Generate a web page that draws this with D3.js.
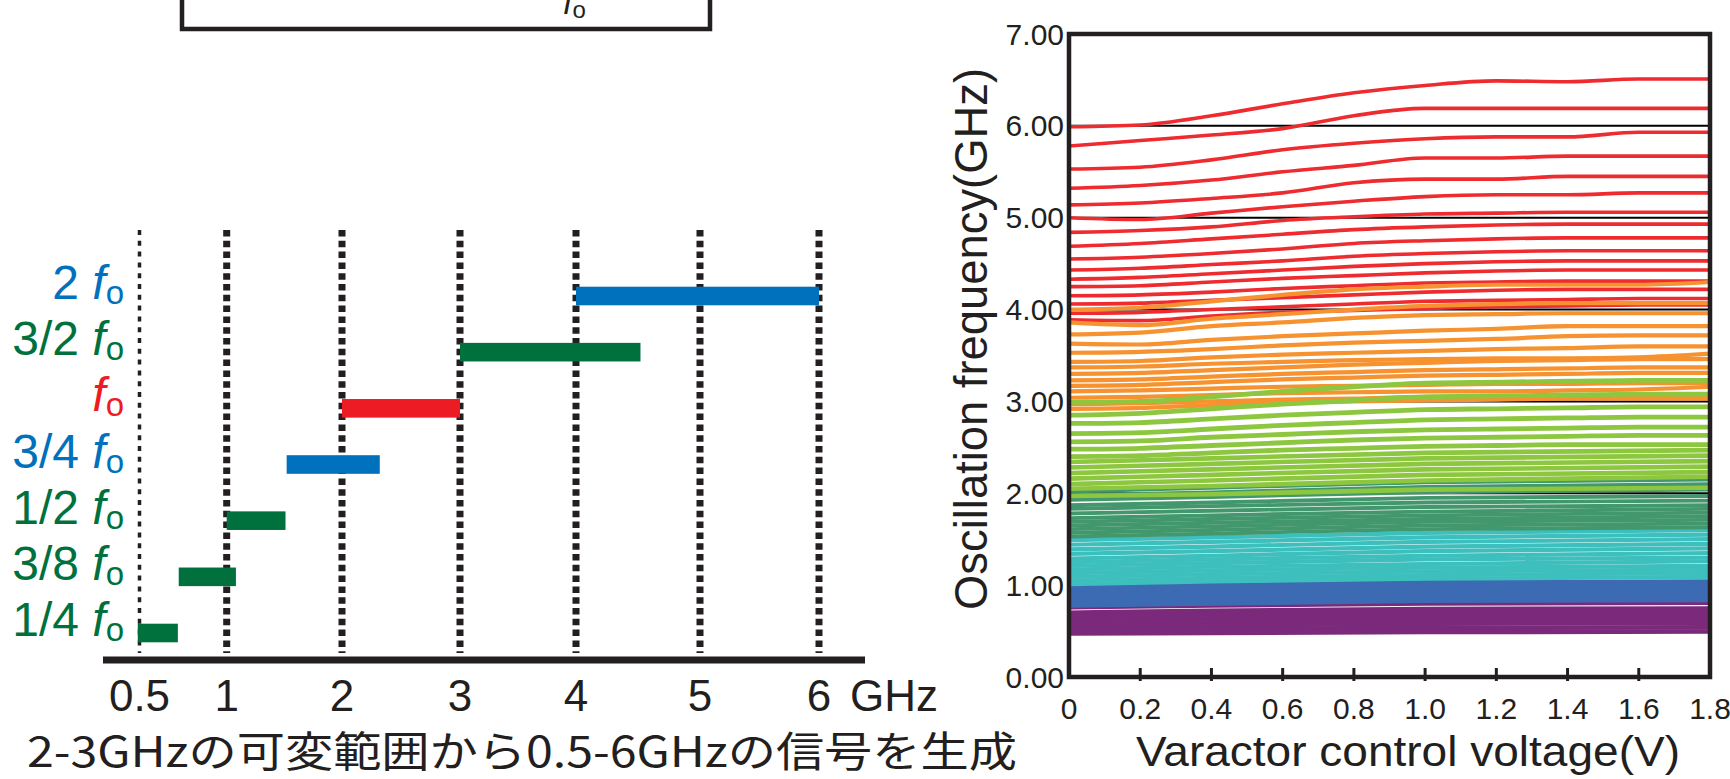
<!DOCTYPE html>
<html>
<head>
<meta charset="utf-8">
<script src="https://d3js.org/d3.v7.min.js"></script>
<style>
body { margin: 0; background: #fff; }
svg { display: block; }
text { font-family: "Liberation Sans", Arial, sans-serif; fill: #231f20; }
</style>
</head>
<body>
<div id="chart"></div>
<script>
var width = 1730;
var height = 779;

// left panel: ranges generated from the 2-3GHz oscillator
var rowNames = ["2", "3/2", "", "3/4", "1/2", "3/8", "1/4"];
var bandLow = [4.0, 3.0, 2.0, 1.52, 1.0, 0.725, 0.49];
var bandHigh = [6.0, 4.52, 3.0, 2.32, 1.51, 1.08, 0.72];
var freqTicks = [0.5, 1, 2, 3, 4, 5, 6];
var caption = "2-3GHzの可変範囲から0.5-6GHzの信号を生成";

// right panel: oscillation frequency (GHz) vs varactor voltage (V)
var volts = [0, 0.2, 0.4, 0.6, 0.8, 1.0, 1.2, 1.4, 1.6, 1.8];
var voltsCoarse = [0, 0.4, 1.0, 1.8];
var voltTicks = [0, 0.2, 0.4, 0.6, 0.8, 1.0, 1.2, 1.4, 1.6, 1.8];
var freqAxisTicks = [0, 1, 2, 3, 4, 5, 6, 7];
var gridFreqs = [1, 2, 3, 4, 5, 6];

var redCurves = [
	[5.99, 6.01, 6.11, 6.24, 6.36, 6.44, 6.49, 6.48, 6.51, 6.51],
	[5.78, 5.84, 5.90, 5.97, 6.11, 6.19, 6.19, 6.19, 6.19, 6.19],
	[5.53, 5.55, 5.63, 5.74, 5.81, 5.86, 5.88, 5.88, 5.93, 5.93],
	[5.32, 5.35, 5.41, 5.50, 5.57, 5.65, 5.65, 5.67, 5.67, 5.67],
	[5.14, 5.16, 5.21, 5.27, 5.38, 5.42, 5.42, 5.45, 5.45, 5.45],
	[5.00, 4.98, 5.05, 5.12, 5.18, 5.23, 5.25, 5.25, 5.27, 5.27],
	[4.84, 4.86, 4.90, 4.97, 5.01, 5.04, 5.05, 5.06, 5.06, 5.06],
	[4.69, 4.72, 4.77, 4.82, 4.87, 4.90, 4.92, 4.93, 4.93, 4.93],
	[4.55, 4.57, 4.61, 4.66, 4.72, 4.75, 4.77, 4.78, 4.78, 4.78],
	[4.43, 4.45, 4.49, 4.53, 4.58, 4.61, 4.63, 4.64, 4.64, 4.64],
	[4.33, 4.35, 4.39, 4.43, 4.47, 4.50, 4.52, 4.53, 4.53, 4.53],
	[4.25, 4.26, 4.30, 4.34, 4.37, 4.40, 4.42, 4.43, 4.43, 4.43],
	[4.15, 4.16, 4.19, 4.23, 4.26, 4.29, 4.30, 4.31, 4.31, 4.31],
	[4.06, 4.07, 4.10, 4.13, 4.16, 4.19, 4.21, 4.22, 4.22, 4.22],
	[3.96, 3.97, 4.00, 4.03, 4.06, 4.09, 4.10, 4.11, 4.12, 4.12],
	[3.89, 3.88, 3.93, 3.97, 3.99, 4.01, 4.03, 4.04, 4.05, 4.05]
];

var orangeCurves = [
	[4.00, 4.02, 4.09, 4.16, 4.22, 4.25, 4.27, 4.27, 4.27, 4.30],
	[3.86, 3.83, 3.90, 3.95, 4.00, 4.04, 4.06, 4.07, 4.07, 4.07],
	[3.73, 3.75, 3.82, 3.86, 3.91, 3.94, 3.95, 3.96, 3.96, 3.96],
	[3.63, 3.62, 3.67, 3.71, 3.74, 3.77, 3.79, 3.82, 3.82, 3.82],
	[3.53, 3.54, 3.57, 3.61, 3.64, 3.66, 3.68, 3.71, 3.72, 3.72],
	[3.43, 3.44, 3.48, 3.51, 3.53, 3.55, 3.57, 3.58, 3.60, 3.60],
	[3.37, 3.38, 3.41, 3.43, 3.45, 3.46, 3.47, 3.47, 3.48, 3.52],
	[3.30, 3.31, 3.34, 3.37, 3.40, 3.42, 3.44, 3.45, 3.46, 3.46],
	[3.23, 3.24, 3.27, 3.30, 3.32, 3.34, 3.35, 3.36, 3.37, 3.37],
	[3.17, 3.18, 3.21, 3.24, 3.26, 3.28, 3.29, 3.30, 3.31, 3.31],
	[3.11, 3.12, 3.14, 3.16, 3.17, 3.18, 3.19, 3.19, 3.20, 3.20],
	[3.04, 3.05, 3.07, 3.09, 3.10, 3.11, 3.11, 3.12, 3.13, 3.16],
	[2.97, 2.98, 3.00, 3.02, 3.03, 3.05, 3.05, 3.06, 3.07, 3.07],
	[2.92, 2.93, 2.96, 2.99, 3.00, 3.01, 3.02, 3.03, 3.03, 3.03]
];

var greenCurves = [
	[2.99, 3.00, 3.05, 3.11, 3.16, 3.20, 3.21, 3.22, 3.23, 3.23],
	[2.85, 2.87, 2.92, 2.97, 3.01, 3.05, 3.06, 3.07, 3.08, 3.08],
	[2.76, 2.77, 2.81, 2.85, 2.88, 2.91, 2.92, 2.93, 2.94, 2.94],
	[2.65, 2.66, 2.70, 2.74, 2.77, 2.80, 2.81, 2.82, 2.83, 2.83],
	[2.56, 2.57, 2.61, 2.64, 2.67, 2.69, 2.70, 2.71, 2.72, 2.72],
	[2.48, 2.49, 2.52, 2.55, 2.58, 2.60, 2.61, 2.62, 2.63, 2.63],
	[2.40, 2.41, 2.44, 2.47, 2.49, 2.51, 2.52, 2.53, 2.53, 2.53]
];

// dense bands, read at 0, 0.4, 1.0 and 1.8 V
var greenDense = [
	[2.34, 2.38, 2.44, 2.47],
	[2.28, 2.32, 2.38, 2.41],
	[2.22, 2.26, 2.32, 2.35],
	[2.16, 2.20, 2.26, 2.29],
	[2.10, 2.14, 2.20, 2.23],
	[2.05, 2.08, 2.14, 2.18],
	[1.97, 1.99, 2.04, 2.06]
];

var tealCurves = [
	[2.02, 2.06, 2.12, 2.15],
	[1.98, 2.01, 2.07, 2.10],
	[1.93, 1.96, 2.01, 2.04],
	[1.87, 1.90, 1.95, 1.97],
	[1.83, 1.86, 1.90, 1.92],
	[1.78, 1.81, 1.85, 1.87],
	[1.73, 1.76, 1.80, 1.83],
	[1.69, 1.72, 1.76, 1.79],
	[1.65, 1.68, 1.72, 1.75],
	[1.61, 1.64, 1.69, 1.71],
	[1.57, 1.60, 1.65, 1.67],
	[1.53, 1.56, 1.61, 1.63]
];

var cyanCurves = [
	[1.49, 1.52, 1.57, 1.60],
	[1.44, 1.47, 1.52, 1.55],
	[1.39, 1.42, 1.47, 1.50],
	[1.34, 1.37, 1.42, 1.45],
	[1.29, 1.32, 1.37, 1.40],
	[1.25, 1.28, 1.32, 1.35],
	[1.21, 1.24, 1.28, 1.30],
	[1.17, 1.20, 1.23, 1.26],
	[1.13, 1.16, 1.19, 1.21],
	[1.09, 1.12, 1.15, 1.17],
	[1.05, 1.08, 1.11, 1.13],
	[1.01, 1.04, 1.07, 1.09]
];

var blueCurves = [
	[0.97, 1.00, 1.03, 1.04],
	[0.93, 0.96, 0.99, 1.00],
	[0.89, 0.92, 0.95, 0.96],
	[0.85, 0.88, 0.91, 0.92],
	[0.81, 0.84, 0.87, 0.88],
	[0.78, 0.80, 0.83, 0.84]
];

var purpleCurves = [
	[0.76, 0.78, 0.80, 0.81],
	[0.70, 0.72, 0.74, 0.745],
	[0.66, 0.68, 0.70, 0.705],
	[0.62, 0.64, 0.66, 0.665],
	[0.58, 0.60, 0.62, 0.625],
	[0.54, 0.56, 0.58, 0.585],
	[0.50, 0.52, 0.535, 0.54],
	[0.475, 0.48, 0.49, 0.495]
];

var svg = d3.select("#chart")
	.append("svg")
	.attr("width", width)
	.attr("height", height);

var ink = "#231f20";
var rowColors = ["#0071bc", "#00713d", "#ed1c24", "#0071bc", "#00713d", "#00713d", "#00713d"];

// left panel ------------------------------------------------------

var left = svg.append("g");

// top block (cut off by the picture edge)
left.append("path")
	.attr("d", "M182,-5V29H710V-5")
	.attr("fill", "none")
	.attr("stroke", ink)
	.attr("stroke-width", 4.5);

var topLabel = left.append("text")
	.attr("x", 563)
	.attr("y", 14)
	.attr("font-size", 34);
topLabel.append("tspan").attr("font-style", "italic").text("f");
topLabel.append("tspan").attr("font-size", 24).attr("dy", 4).text("o");

var fx = d3.scaleLinear()
	.domain(freqTicks)
	.range([139.5, 226.7, 342, 460, 576, 700, 819]);

var rowY = d3.scalePoint()
	.domain(d3.range(rowNames.length))
	.range([296, 633]);

left.selectAll(".guide")
	.data(freqTicks)
	.enter()
	.append("line")
		.attr("class", "guide")
		.attr("x1", function(d) { return fx(d); })
		.attr("x2", function(d) { return fx(d); })
		.attr("y1", 230)
		.attr("y2", 653)
		.attr("stroke", ink)
		.attr("stroke-width", function(d) { return d === 0.5 ? 3.5 : 7; })
		.attr("stroke-dasharray", function(d) { return d === 0.5 ? "5,5.8" : "6.5,4.3"; });

left.selectAll(".band")
	.data(rowNames)
	.enter()
	.append("rect")
		.attr("class", "band")
		.attr("x", function(d, i) { return fx(bandLow[i]); })
		.attr("y", function(d, i) { return rowY(i) - 9.3; })
		.attr("width", function(d, i) { return fx(bandHigh[i]) - fx(bandLow[i]); })
		.attr("height", 18.6)
		.attr("fill", function(d, i) { return rowColors[i]; });

var rowLabels = left.selectAll(".rowlabel")
	.data(rowNames)
	.enter()
	.append("text")
		.attr("class", "rowlabel")
		.attr("x", 124)
		.attr("y", function(d, i) { return rowY(i) + 3; })
		.attr("text-anchor", "end")
		.attr("font-size", 48)
		.style("fill", function(d, i) { return rowColors[i]; });

rowLabels.append("tspan").text(function(d) { return d === "" ? "" : d + " "; });
rowLabels.append("tspan").attr("font-style", "italic").text("f");
rowLabels.append("tspan").attr("font-size", 33).attr("dy", 5).text("o");

left.append("line")
	.attr("x1", 103)
	.attr("x2", 865)
	.attr("y1", 660)
	.attr("y2", 660)
	.attr("stroke", ink)
	.attr("stroke-width", 7);

left.selectAll(".ftick")
	.data(freqTicks)
	.enter()
	.append("text")
		.attr("class", "ftick")
		.attr("x", function(d) { return fx(d); })
		.attr("y", 711)
		.attr("text-anchor", "middle")
		.attr("font-size", 44)
		.text(function(d) { return d; });

left.append("text")
	.attr("x", 850)
	.attr("y", 711)
	.attr("font-size", 44)
	.text("GHz");

left.append("text")
	.attr("x", 27)
	.attr("y", 767)
	.attr("font-size", 42)
	.attr("textLength", 990)
	.attr("lengthAdjust", "spacingAndGlyphs")
	.style("font-family", "'Noto Sans CJK JP', 'Liberation Sans', sans-serif")
	.text(caption);

// right panel -----------------------------------------------------

var x = d3.scaleLinear().domain([0, 1.8]).range([1069, 1710]);
var y = d3.scaleLinear().domain([0, 7]).range([677, 34]);

var right = svg.append("g");

right.append("clipPath")
	.attr("id", "plotclip")
	.append("rect")
		.attr("x", x(0))
		.attr("y", y(7))
		.attr("width", x(1.8) - x(0))
		.attr("height", y(0) - y(7));

var plot = right.append("g").attr("clip-path", "url(#plotclip)");

plot.selectAll(".grid")
	.data(gridFreqs)
	.enter()
	.append("line")
		.attr("class", "grid")
		.attr("x1", x(0))
		.attr("x2", x(1.8))
		.attr("y1", function(d) { return y(d); })
		.attr("y2", function(d) { return y(d); })
		.attr("stroke", "#000")
		.attr("stroke-width", 2);

var groups = [
	{curves: purpleCurves, volts: voltsCoarse, color: "#7b2a7b", w: 4.6},
	{curves: blueCurves, volts: voltsCoarse, color: "#3c6bb3", w: 4.6},
	{curves: cyanCurves, volts: voltsCoarse, color: "#3dbfbd", w: 4.2},
	{curves: tealCurves, volts: voltsCoarse, color: "#42976c", w: 3.9},
	{curves: greenDense, volts: voltsCoarse, color: "#8dc63f", w: 4.6},
	{curves: redCurves, volts: volts, color: "#ee2b2f", w: 3.6},
	{curves: orangeCurves, volts: volts, color: "#f6922f", w: 4.2},
	{curves: greenCurves, volts: volts, color: "#8dc63f", w: 4.8}
];

groups.forEach(function(g) {
	var line = d3.line()
		.x(function(d, i) { return x(g.volts[i]); })
		.y(function(d) { return y(d); })
		.curve(d3.curveMonotoneX);
	plot.append("g")
		.selectAll("path")
		.data(g.curves)
		.enter()
		.append("path")
			.attr("d", line)
			.attr("fill", "none")
			.attr("stroke", g.color)
			.attr("stroke-width", g.w);
});

// inner ticks on the voltage axis
right.selectAll(".vtick")
	.data(voltTicks.slice(1, -1))
	.enter()
	.append("line")
		.attr("class", "vtick")
		.attr("x1", function(d) { return x(d); })
		.attr("x2", function(d) { return x(d); })
		.attr("y1", y(0) - 9)
		.attr("y2", y(0) + 4)
		.attr("stroke", ink)
		.attr("stroke-width", 3);

right.append("rect")
	.attr("x", x(0))
	.attr("y", y(7))
	.attr("width", x(1.8) - x(0))
	.attr("height", y(0) - y(7))
	.attr("fill", "none")
	.attr("stroke", ink)
	.attr("stroke-width", 4.5);

right.selectAll(".ylab")
	.data(freqAxisTicks)
	.enter()
	.append("text")
		.attr("class", "ylab")
		.attr("x", 1064)
		.attr("y", function(d) { return y(d) + 10.5; })
		.attr("text-anchor", "end")
		.attr("font-size", 30)
		.text(d3.format(".2f"));

right.selectAll(".xlab")
	.data(voltTicks)
	.enter()
	.append("text")
		.attr("class", "xlab")
		.attr("x", function(d) { return x(d); })
		.attr("y", 719)
		.attr("text-anchor", "middle")
		.attr("font-size", 30)
		.text(function(d) { return d === 0 ? "0" : d3.format(".1f")(d); });

right.append("text")
	.attr("x", 1136)
	.attr("y", 766)
	.attr("font-size", 43)
	.attr("textLength", 544)
	.attr("lengthAdjust", "spacingAndGlyphs")
	.text("Varactor control voltage(V)");

right.append("text")
	.attr("transform", "translate(987,339) rotate(-90)")
	.attr("text-anchor", "middle")
	.attr("font-size", 46)
	.attr("textLength", 542)
	.attr("lengthAdjust", "spacingAndGlyphs")
	.text("Oscillation frequency(GHz)");
</script>
</body>
</html>
